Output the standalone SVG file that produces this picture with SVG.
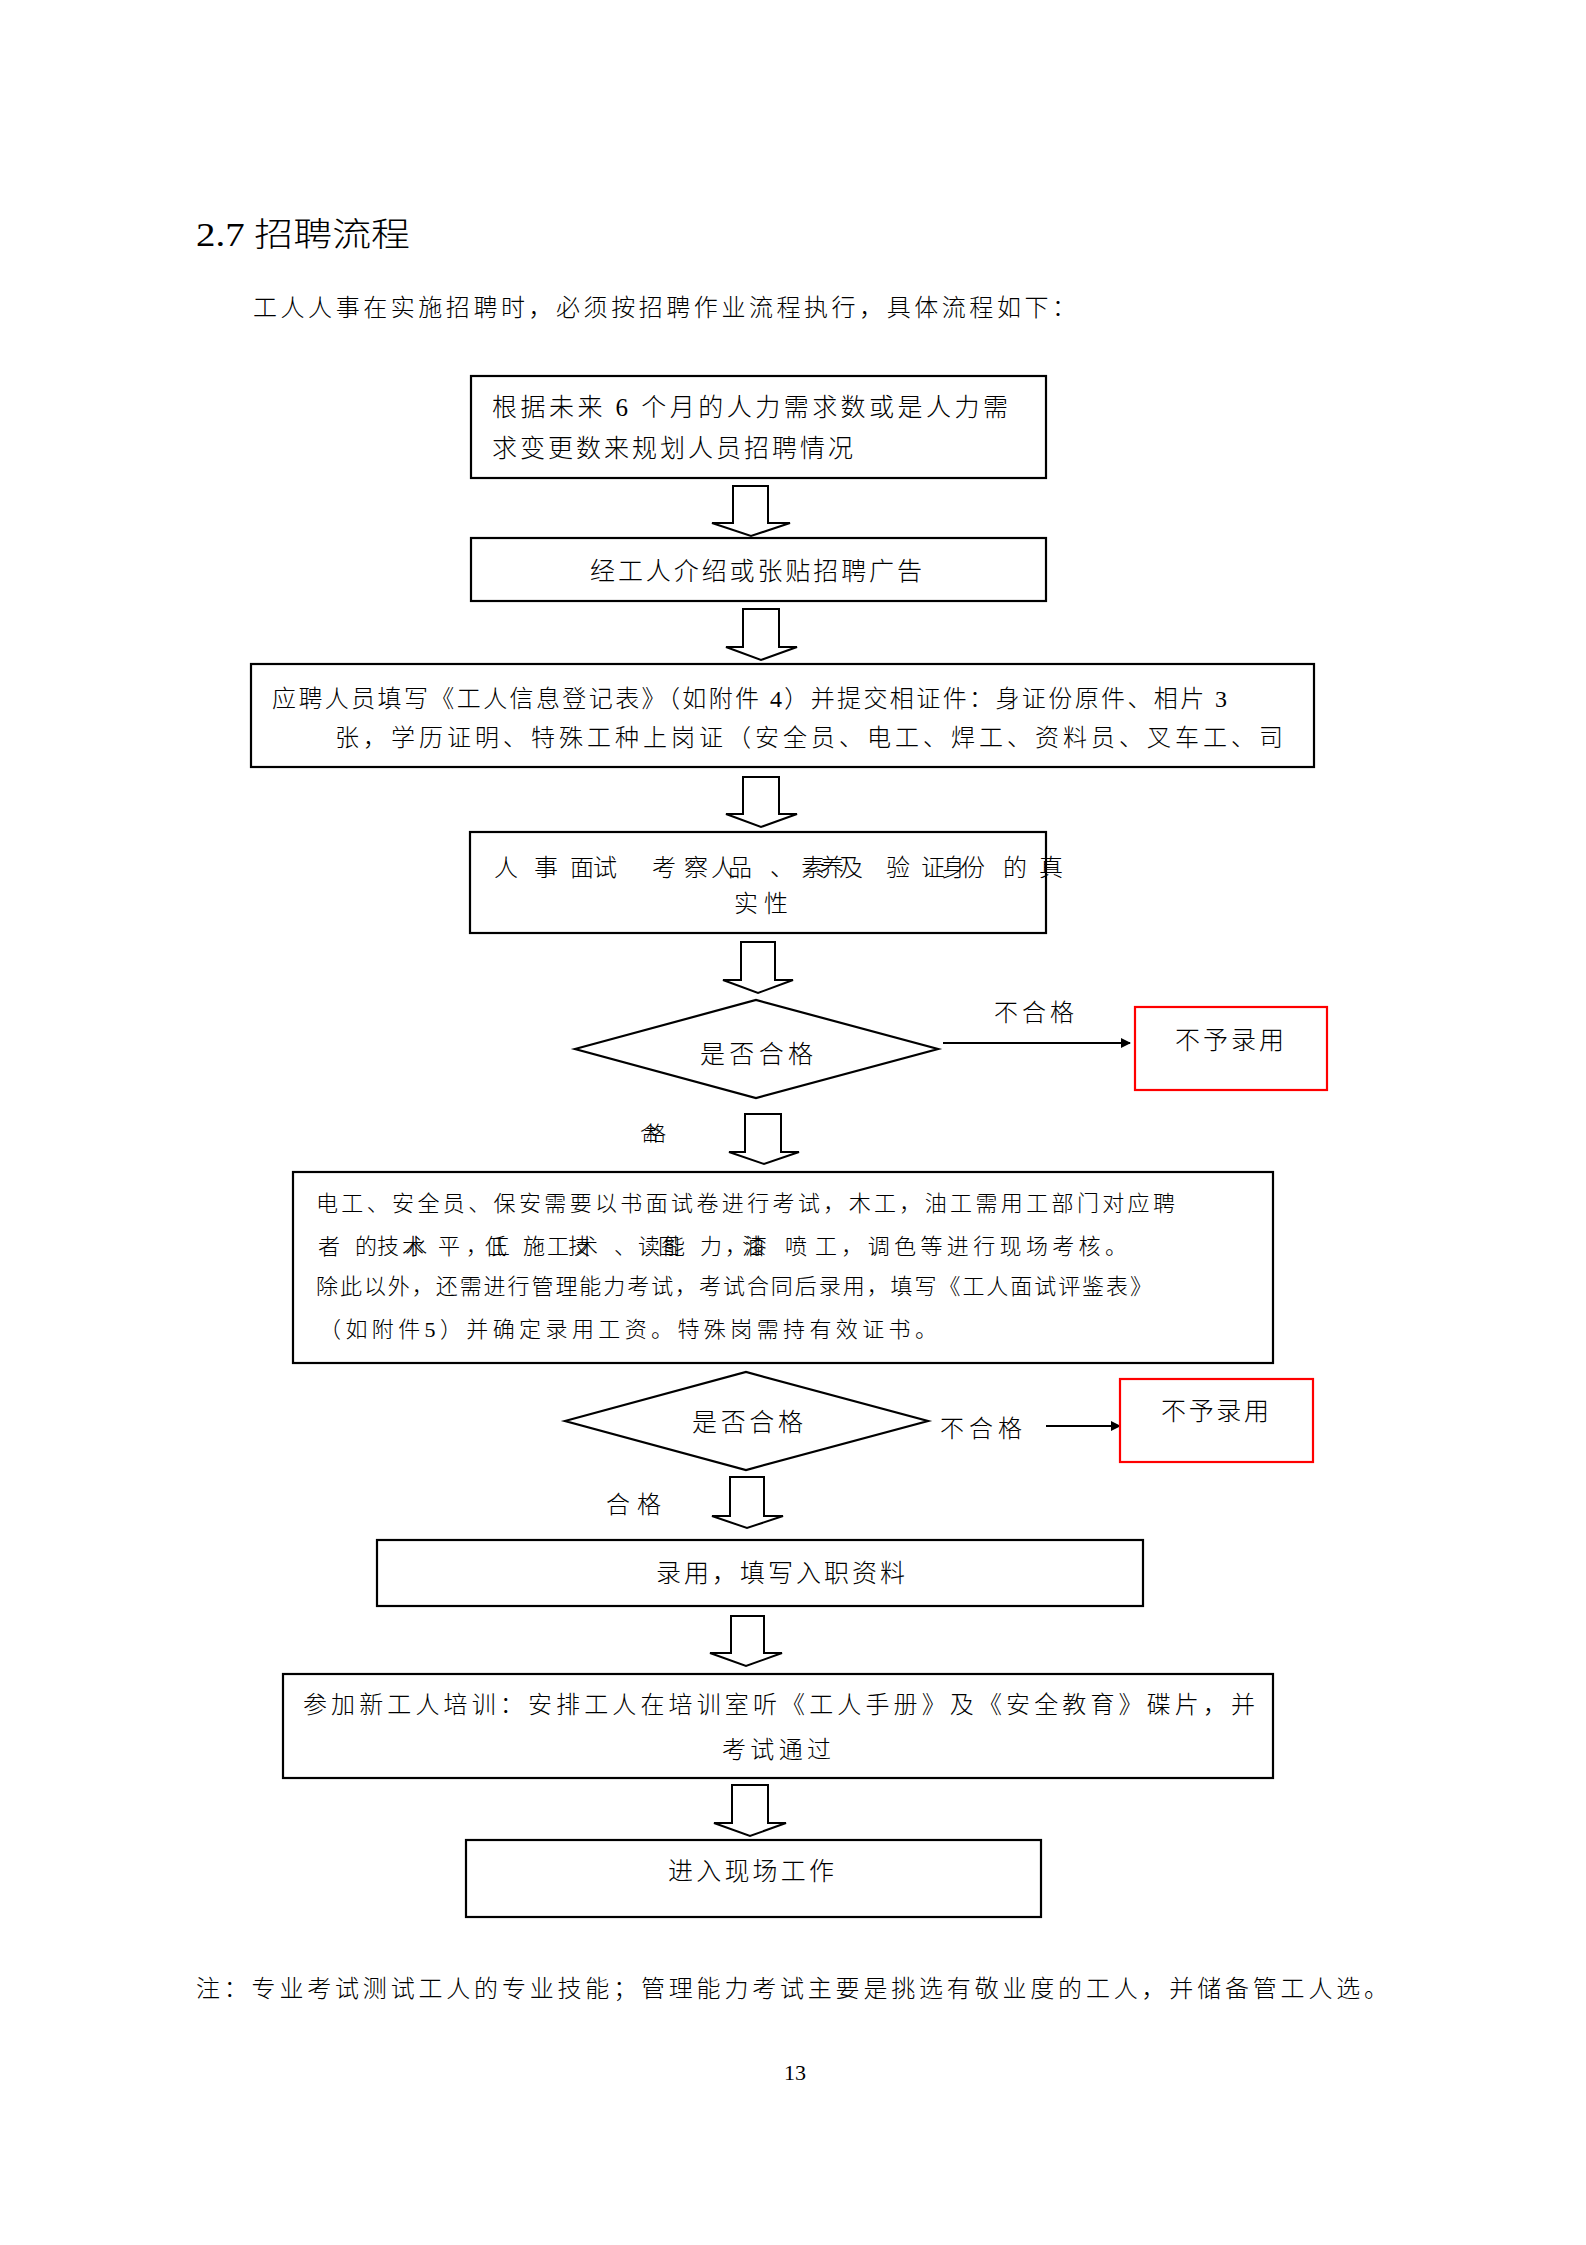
<svg xmlns="http://www.w3.org/2000/svg" width="1586" height="2245" viewBox="0 0 1586 2245">
<style>
.t{font-family:"Liberation Serif","Noto Sans CJK SC",serif;fill:#000;font-weight:300}
.box{fill:#fff;stroke:#000;stroke-width:2.2}
.red{fill:#fff;stroke:#ff0000;stroke-width:2.2}
.arr{fill:#fff;stroke:#000;stroke-width:2;stroke-linejoin:miter}
.ln{stroke:#000;stroke-width:2;fill:none}
</style>
<defs>
<marker id="ah" markerWidth="10" markerHeight="10" refX="9" refY="5" orient="auto" markerUnits="userSpaceOnUse" viewBox="0 0 10 10">
<path d="M0,0 L10,5 L0,10 Z" fill="#000"/>
</marker>
</defs>
<rect width="1586" height="2245" fill="#fff"/>

<g id="title">
<text class="t" x="196" y="246" font-size="33" textLength="214" lengthAdjust="spacingAndGlyphs">2.7 招聘流程</text>
<text class="t" x="253" y="316" font-size="24" textLength="823" lengthAdjust="spacing">工人人事在实施招聘时，必须按招聘作业流程执行，具体流程如下：</text>
</g>

<g id="connectors">
<polygon class="arr" points="733,486 768,486 768,523 790,523 751,536 712,523 733,523"/>
<polygon class="arr" points="743,609 779,609 779,647 797,647 761,660 726,647 743,647"/>
<polygon class="arr" points="743,777 779,777 779,814 797,814 761,827 726,814 743,814"/>
<polygon class="arr" points="741,942 775,942 775,980 793,980 758,993 723,980 741,980"/>
<polygon class="arr" points="745,1114 781,1114 781,1152 799,1152 764,1164 729,1152 745,1152"/>
<polygon class="arr" points="730,1477 764,1477 764,1516 783,1516 747,1528 712,1516 730,1516"/>
<polygon class="arr" points="731,1616 764,1616 764,1653 782,1653 746,1666 710,1653 731,1653"/>
<polygon class="arr" points="732,1785 768,1785 768,1823 786,1823 750,1836 714,1823 732,1823"/>
<line class="ln" x1="943" y1="1043" x2="1130" y2="1043" marker-end="url(#ah)"/>
<line class="ln" x1="1046" y1="1426" x2="1120" y2="1426" marker-end="url(#ah)"/>
<text class="t" x="994" y="1021" font-size="24" textLength="80" lengthAdjust="spacing">不合格</text>
<text class="t" x="940" y="1437" font-size="24" textLength="82" lengthAdjust="spacing">不合格</text>
<text class="t" x="640 646" y="1141" font-size="20">合格</text>
<text class="t" x="606" y="1513" font-size="24" textLength="55" lengthAdjust="spacing">合格</text>
</g>

<g id="n1">
<rect class="box" x="471" y="376" width="575" height="102"/>
<text class="t" x="492" y="416" font-size="25" textLength="516" lengthAdjust="spacing">根据未来 6 个月的人力需求数或是人力需</text>
<text class="t" x="492" y="457" font-size="25" textLength="361" lengthAdjust="spacing">求变更数来规划人员招聘情况</text>
</g>

<g id="n2">
<rect class="box" x="471" y="538" width="575" height="63"/>
<text class="t" x="590" y="580" font-size="25" textLength="332" lengthAdjust="spacing">经工人介绍或张贴招聘广告</text>
</g>

<g id="n3">
<rect class="box" x="251" y="664" width="1063" height="103"/>
<text class="t" x="272" y="707" font-size="24" textLength="955" lengthAdjust="spacing">应聘人员填写《工人信息登记表》（如附件 4）并提交相证件：身证份原件、相片 3</text>
<text class="t" x="335" y="746" font-size="24" textLength="948" lengthAdjust="spacing">张，学历证明、特殊工种上岗证（安全员、电工、焊工、资料员、叉车工、司</text>
</g>

<g id="n4">
<rect class="box" x="470" y="832" width="576" height="101"/>
<text class="t" y="876" font-size="24" x="494 534 570 593 652 684 711 728 770 801 820 839 886 921 942 961 1003 1039">人事面试考察人品、素养及验证身份的真</text>
<text class="t" x="734" y="912" font-size="24" textLength="54" lengthAdjust="spacing">实性</text>
</g>

<g id="d1">
<polygon class="box" points="575,1049 756,1000 938,1049 756,1098"/>
<text class="t" x="700" y="1063" font-size="25" textLength="113" lengthAdjust="spacing">是否合格</text>
</g>

<g id="r1">
<rect class="red" x="1135" y="1007" width="192" height="83"/>
<text class="t" x="1175" y="1049" font-size="25" textLength="109" lengthAdjust="spacing">不予录用</text>
</g>

<g id="n5">
<rect class="box" x="293" y="1172" width="980" height="191"/>
<text class="t" x="316" y="1211" font-size="22" textLength="859" lengthAdjust="spacing">电工、安全员、保安需要以书面试卷进行考试，木工，油工需用工部门对应聘</text>
<text class="t" y="1254" font-size="22" x="318 355 377 402 405 438 466 485 488 523 547 568 576 614 638 658 663 700 725 742 745 785">者的技术水平，低工施工技术、读图能力，油漆喷</text>
<text class="t" x="815" y="1254" font-size="22" textLength="312" lengthAdjust="spacing">工，调色等进行现场考核。</text>
<text class="t" x="316" y="1294" font-size="22" textLength="836" lengthAdjust="spacing">除此以外，还需进行管理能力考试，考试合同后录用，填写《工人面试评鉴表》</text>
<text class="t" x="319" y="1337" font-size="22" textLength="618" lengthAdjust="spacing">（如附件5）并确定录用工资。特殊岗需持有效证书。</text>
</g>

<g id="d2">
<polygon class="box" points="565,1421 746,1372 928,1421 746,1470"/>
<text class="t" x="692" y="1431" font-size="25" textLength="111" lengthAdjust="spacing">是否合格</text>
</g>

<g id="r2">
<rect class="red" x="1120" y="1379" width="193" height="83"/>
<text class="t" x="1161" y="1420" font-size="25" textLength="108" lengthAdjust="spacing">不予录用</text>
</g>

<g id="n6">
<rect class="box" x="377" y="1540" width="766" height="66"/>
<text class="t" x="656" y="1582" font-size="25" textLength="249" lengthAdjust="spacing">录用，填写入职资料</text>
</g>

<g id="n7">
<rect class="box" x="283" y="1674" width="990" height="104"/>
<text class="t" x="303" y="1713" font-size="24" textLength="952" lengthAdjust="spacing">参加新工人培训：安排工人在培训室听《工人手册》及《安全教育》碟片，并</text>
<text class="t" x="722" y="1758" font-size="24" textLength="109" lengthAdjust="spacing">考试通过</text>
</g>

<g id="n8">
<rect class="box" x="466" y="1840" width="575" height="77"/>
<text class="t" x="668" y="1880" font-size="25" textLength="166" lengthAdjust="spacing">进入现场工作</text>
</g>

<g id="footer">
<text class="t" x="196" y="1997" font-size="24" textLength="1192" lengthAdjust="spacing">注：专业考试测试工人的专业技能；管理能力考试主要是挑选有敬业度的工人，并储备管工人选。</text>
<text class="t" x="784" y="2080" font-size="21" textLength="22" lengthAdjust="spacingAndGlyphs">13</text>
</g>
</svg>
